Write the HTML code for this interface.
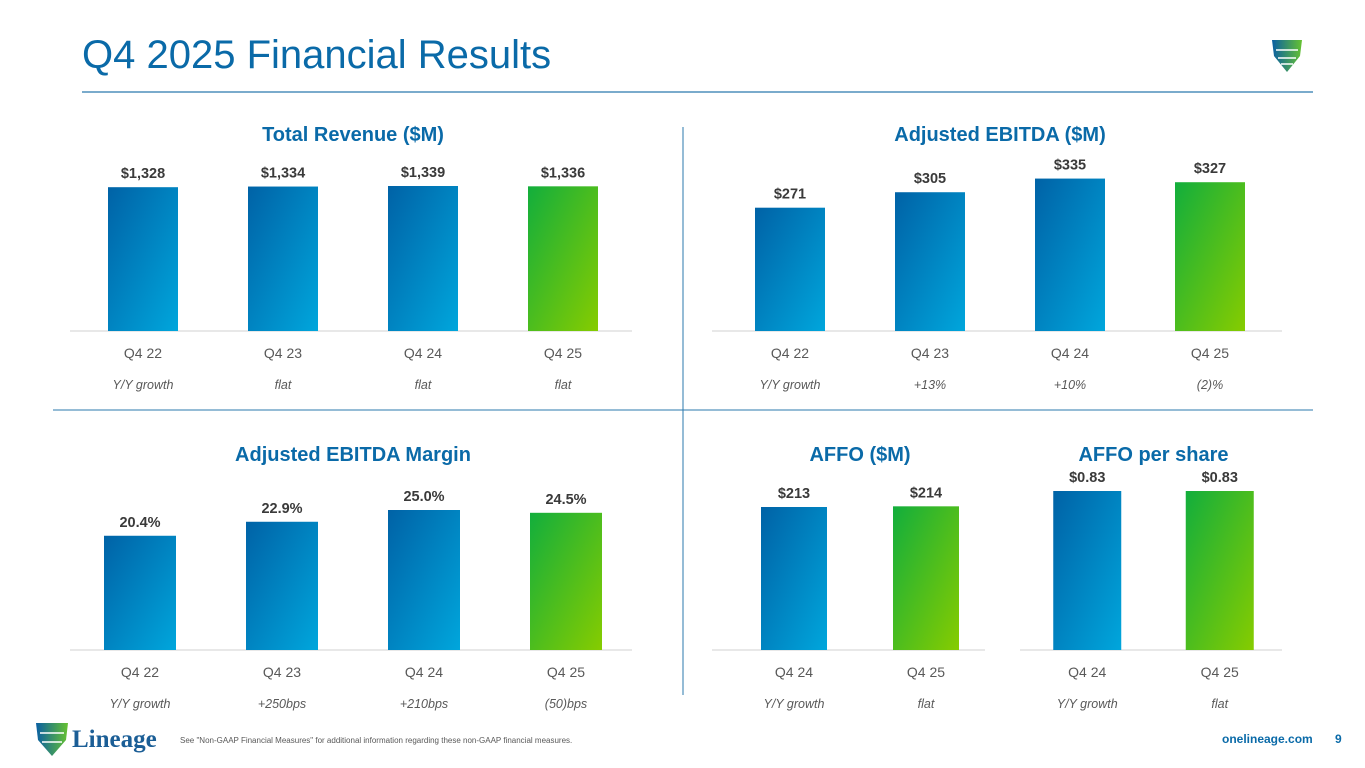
<!DOCTYPE html>
<html><head><meta charset="utf-8">
<style>
body{margin:0;width:1365px;height:768px;background:#fff;overflow:hidden;font-family:"Liberation Sans",sans-serif;}
svg{display:block}
.title{font-weight:bold;font-size:20px;fill:#0a6aa8;text-anchor:middle}
.val{font-weight:bold;font-size:14.5px;fill:#3a3a3a;text-anchor:middle}
.cat{font-size:14px;fill:#595959;text-anchor:middle}
.gr{font-size:12.5px;font-style:italic;fill:#595959;text-anchor:middle}
</style></head><body>
<svg id="c" width="1365" height="768">
<defs>
<linearGradient id="gb" x1="0" y1="0" x2="1" y2="1"><stop offset="0" stop-color="#0062a6"/><stop offset="1" stop-color="#00a6dc"/></linearGradient>
<linearGradient id="gg" x1="0" y1="0" x2="1" y2="1"><stop offset="0" stop-color="#12ae3c"/><stop offset="1" stop-color="#86cc00"/></linearGradient>
<linearGradient id="gl" x1="0" y1="0" x2="1" y2="0"><stop offset="0" stop-color="#0a5fa3"/><stop offset="1" stop-color="#66c230"/></linearGradient>
</defs>
<text x="82" y="68" font-size="40" fill="#0a6aa8">Q4 2025 Financial Results</text>
<g>
<path d="M1272,40 L1302,40 L1300,56 L1287,72 L1274,56 Z" fill="url(#gl)"/>
<path d="M1276,50 L1298,50 M1278,58 L1296,58 M1281,64 L1293,64" stroke="#fff" stroke-width="1.5"/>
</g>
<line x1="82" y1="92" x2="1313" y2="92" stroke="#2b79ad" stroke-width="1.2"/>
<line x1="53" y1="410" x2="1313" y2="410" stroke="#2b79ad" stroke-width="1"/>
<line x1="683" y1="127" x2="683" y2="695" stroke="#2b79ad" stroke-width="1"/>
<g>
<path d="M36,723 L68,723 L66,740 L52,756 L38,740 Z" fill="url(#gl)"/>
<path d="M40,733 L64,733 M42,742 L62,742" stroke="#fff" stroke-width="1.5"/>
<text x="72" y="747" font-size="25" font-weight="bold" font-family="Liberation Serif,serif" fill="#1b5e96">Lineage</text>
</g>
<text x="180" y="743" font-size="8" fill="#595959">See "Non-GAAP Financial Measures" for additional information regarding these non-GAAP financial measures.</text>
<text x="1222" y="743" font-size="12" font-weight="bold" fill="#0a6aa8">onelineage.com</text>
<text x="1335" y="743" font-size="12" font-weight="bold" fill="#0a6aa8">9</text>
</svg>
<script>
const revCats=["Q4 22","Q4 23","Q4 24","Q4 25"];
const revVals=[1328,1334,1339,1336];
const revLabels=["$1,328","$1,334","$1,339","$1,336"];
const revGrowth=["Y/Y growth","flat","flat","flat"];
const ebCats=["Q4 22","Q4 23","Q4 24","Q4 25"];
const ebVals=[271,305,335,327];
const ebLabels=["$271","$305","$335","$327"];
const ebGrowth=["Y/Y growth","+13%","+10%","(2)%"];
const mCats=["Q4 22","Q4 23","Q4 24","Q4 25"];
const mVals=[20.4,22.9,25.0,24.5];
const mLabels=["20.4%","22.9%","25.0%","24.5%"];
const mGrowth=["Y/Y growth","+250bps","+210bps","(50)bps"];
const aCats=["Q4 24","Q4 25"];
const aVals=[213,214];
const aLabels=["$213","$214"];
const aGrowth=["Y/Y growth","flat"];
const psCats=["Q4 24","Q4 25"];
const psVals=[0.83,0.83];
const psLabels=["$0.83","$0.83"];
const psGrowth=["Y/Y growth","flat"];

const svg=document.getElementById('c');
const NS='http://www.w3.org/2000/svg';
function mk(tag,a){const e=document.createElementNS(NS,tag);for(const k in a)e.setAttribute(k,a[k]);svg.appendChild(e);return e;}
function chart(o){
  const n=o.cats.length;
  const step=(o.x2-o.x1)/n;
  const xs=i=>o.x1+step*(i+0.5);
  const ys=v=>o.base-v*o.k;
  const t=mk('text',{x:(o.x1+o.x2)/2,y:o.ty,class:'title'});t.textContent=o.title;
  
  
  const ax=mk('line',{x1:o.ax1,x2:o.ax2,y1:o.base,y2:o.base,stroke:'#d9d9d9','stroke-width':1.3});
  
  
  o.vals.forEach((v,i)=>{
    const cx=xs(i),y=ys(v);
    const r=mk('rect',{x:cx-o.w/2,y:y,width:o.w,height:o.base-y,fill:i===n-1?'url(#gg)':'url(#gb)'});
    
    
    const l=mk('text',{x:cx,y:y-9,class:'val'});l.textContent=o.labels[i];
    
    
    const c=mk('text',{x:cx,y:o.base+27,class:'cat'});c.textContent=o.cats[i];
    
    
    const g=mk('text',{x:cx,y:o.base+58,class:'gr'});g.textContent=o.growth[i];
    
    
  });
}
chart({id:'revenue',title:'Total Revenue ($M)',cats:revCats,vals:revVals,labels:revLabels,growth:revGrowth,x1:73,x2:633,ax1:70,ax2:632,base:331,k:145/1339,w:70,ty:141});
chart({id:'ebitda',title:'Adjusted EBITDA ($M)',cats:ebCats,vals:ebVals,labels:ebLabels,growth:ebGrowth,x1:720,x2:1280,ax1:712,ax2:1282,base:331,k:0.455,w:70,ty:141});
chart({id:'margin',title:'Adjusted EBITDA Margin',cats:mCats,vals:mVals,labels:mLabels,growth:mGrowth,x1:69,x2:637,ax1:70,ax2:632,base:650,k:5.6,w:72,ty:461});
chart({id:'affo',title:'AFFO ($M)',cats:aCats,vals:aVals,labels:aLabels,growth:aGrowth,x1:728,x2:992,ax1:712,ax2:985,base:650,k:143/213,w:66,ty:461});
chart({id:'affo-per-share',title:'AFFO per share',cats:psCats,vals:psVals,labels:psLabels,growth:psGrowth,x1:1021,x2:1286,ax1:1020,ax2:1282,base:650,k:159/0.83,w:68,ty:461});
</script>
</body></html>
